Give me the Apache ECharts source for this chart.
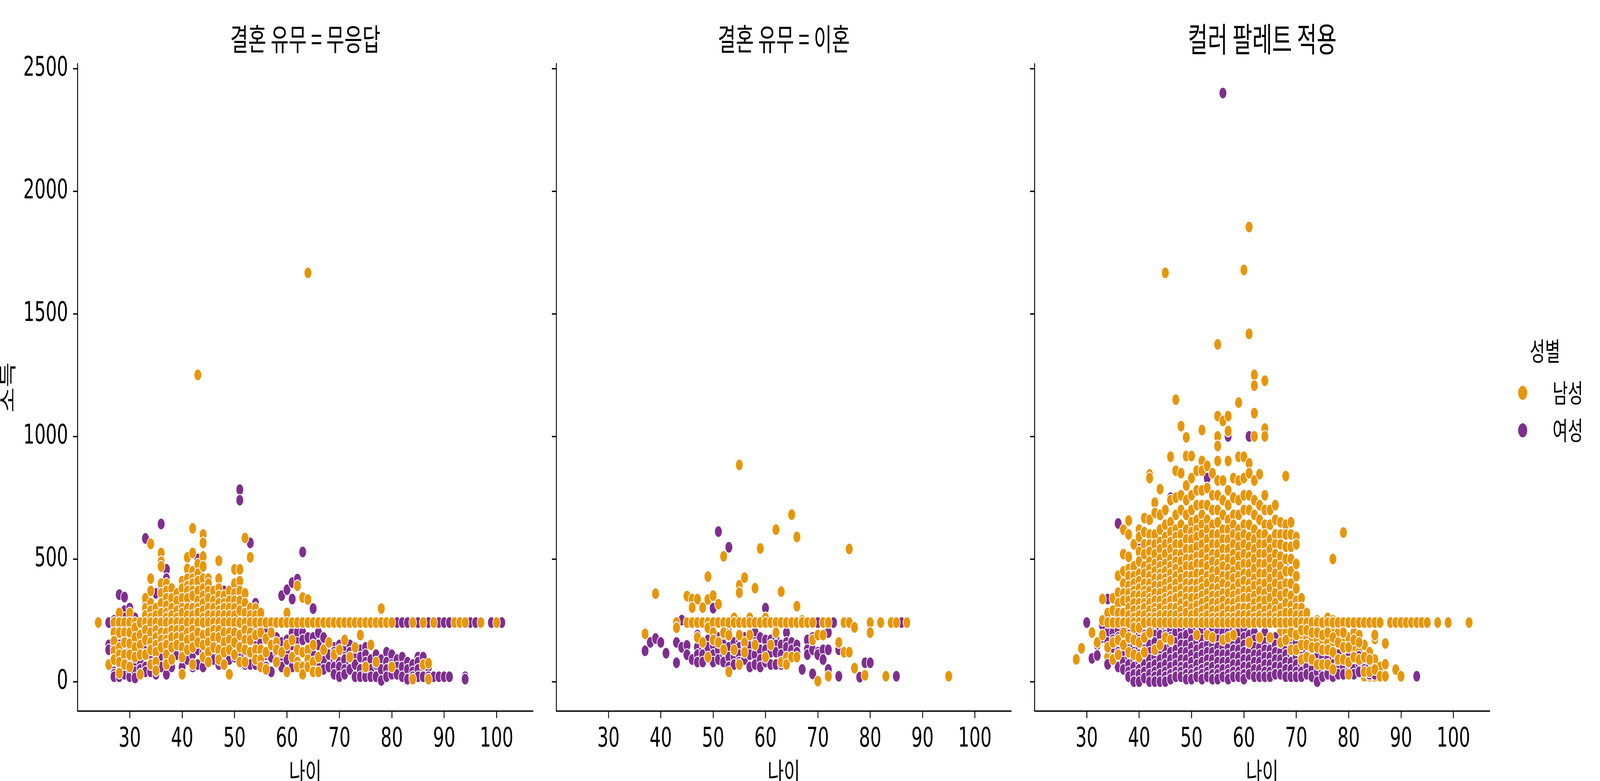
<!DOCTYPE html>
<html>
<head>
<meta charset="utf-8">
<script src="https://cdn.jsdelivr.net/npm/echarts@6/dist/echarts.min.js"></script>
<style>
html, body { margin: 0; padding: 0; background: #fff; overflow: hidden; }
#main { width: 6373px; height: 2000px; transform-origin: 0 0; }
</style>
</head>
<body>
<div id="main"></div>
<script>
// 축 눈금, 제목
var xTicks = [30, 40, 50, 60, 70, 80, 90, 100];
var yTicks = [0, 500, 1000, 1500, 2000, 2500];
var panelTitles = ['결혼 유무 = 무응답', '결혼 유무 = 이혼', '컬러 팔레트 적용'];
var genders = ['남성', '여성'];

// [나이, 소득, 소득, ...] 형태로 나이별 점 묶음
var noAnswerMale = [
  [24,241],[26,70],[27,241,200,165,125,90],[28,280,241,200,140,110,80,35],[29,241,200,160,110,70],
  [30,280,241,200,155,110,60],[31,241,220,180,140,100],[32,241,190,150,110,30],[33,340,300,270,241,210,170,110],
  [34,562,420,370,320,290,260,241,200,160,130,70],[35,300,270,241,210,180,150,120,80,45],
  [36,525,489,470,400,360,320,280,241,200,170,140],[37,400,370,340,310,280,260,241,200,170,150,110,70],
  [38,380,340,300,270,241,210,180,140,90],[39,360,330,290,260,241,210,180,150],
  [40,410,380,340,300,280,241,210,180,140,100,30],[41,507,460,420,390,370,340,300,270,241,200,170,130],
  [42,625,525,450,420,400,370,350,300,270,241,210,180,140,70],[43,1251,479,440,410,370,330,300,280,241,200,160],
  [44,600,566,510,470,420,380,350,320,290,260,241,190,150,100],[45,420,400,370,340,300,270,241,200,160,120,80],
  [46,370,330,300,270,241,210,180,140],[47,493,420,380,350,320,290,270,241,210,180,130,90],
  [48,350,320,300,270,241,200,160,120,70],[49,370,330,300,270,241,200,170,130,30],
  [50,458,400,360,330,300,270,241,200,160,110],[51,458,410,370,330,290,241,190,140,80],
  [52,586,360,320,280,241,210,170,130,80],[53,507,300,270,241,200,170,120],[54,300,270,241,190,130,90],
  [55,280,241,200,130,90,60],[56,241,175,120,50],[57,241,200,150],[58,241,160,130,80],[59,241,120],
  [60,280,241,150,40],[61,241,170,100],[62,391,241,130,80,60],[63,343,241,120,60,30],[64,1667,335,241,130,90,60],
  [65,241,150,80,40],[66,241,100,40],[67,241,130],[68,241,160],[69,241,110],[70,241,130],[71,241,170],
  [72,241,100],[73,241,140],[74,241,190],[75,241,60],[76,241,150],[77,241,80],[78,298,241],[79,241],
  [80,241,60],[84,241,10],[86,241,70],[87,75,10],[88,241],[92,241],[93,241],[94,241],[97,241],[100,241]
];
var noAnswerFemale = [
  [26,241,150,130],[27,250,210,170,140,120,90,60,40,30,20],[28,355,241,200,180,150,120,100,70,40,20],
  [29,345,290,260,230,190,160,120,90,60,30],[30,300,241,200,160,120,90,60,40,20],
  [31,260,220,200,160,130,100,70,40,15],[32,241,210,180,140,110,80,50,30],[33,584,325,280,241,200,150,110,60,40],
  [34,320,280,250,220,180,140,100,70,40],[35,360,300,241,200,150,100,60,30],[36,643,380,330,241,200,150,100,60],
  [37,458,420,350,300,241,190,140,80,30],[38,280,241,180,140,100,60],[39,360,290,241,200,150,110],
  [40,300,241,180,130,90,60],[41,290,241,200,140,90],[42,310,241,200,160,110,60],[43,500,241,180,130,70],
  [44,380,241,170,120,60],[45,241,190,150,110,80],[46,300,241,200,130,90],[47,340,241,170,110,70],
  [48,370,241,210,170,120,80],[49,241,180,130,90],[50,300,241,180,140,100],[51,783,740,340,241,180,120,80],
  [52,300,241,190,150,110,70],[53,566,300,241,170,120,70],[54,320,241,200,160,110,70],[55,241,160,110,60],
  [56,241,200,170,110,60],[57,241,190,150,100,40],[58,241,180,120,80],[59,351,241,160,100,60],
  [60,375,241,170,130,90],[61,404,337,241,200,150,100,60],[62,418,241,200,160,110,70],
  [63,529,241,200,170,120,60],[64,241,180,130,80],[65,298,241,180,140,110,60],[66,241,200,150,100,60],
  [67,241,180,130,90,50],[68,241,150,110,60],[69,241,140,120,90,60,30],[70,241,150,110,80,60,20],
  [71,241,130,100,90,50,30],[72,241,150,120,80,50],[73,241,140,110,70,20],[74,241,130,100,50,20],
  [75,241,140,110,80,40,20],[76,241,90,50,20],[77,241,110,70,20],[78,241,90,50,5],[79,241,120,80,50,20],
  [80,241,110,70,30],[81,241,90,60,30],[82,241,100,60,20],[83,241,80,50,10],[84,241,70,40,20],
  [85,241,100,80,50,20],[86,241,100,60,20],[87,241,60,20],[88,241,20],[89,241,20],[90,241,20],[91,241,20],
  [94,20,10],[95,241],[96,241],[99,241],[101,241]
];
var divorcedMale = [
  [37,195],[39,359],[43,241,220],[45,349,241],[46,337,302,241],[47,337,241,180],[48,302,241,160],
  [49,428,335,241,220,100],[50,351,241,200,170],[51,316,241,160],[52,511,241,200,130],[53,241,190,40],
  [54,260,241,130],[55,884,393,363,241,190,70],[56,424,241,160,120],[57,260,241,190],[58,381,241,150],
  [59,543,241],[60,260,241,100],[61,241,150],[62,620,241,200],[63,367,241,80],[64,241,100,70],
  [65,681,241,100],[66,590,308,241,100],[67,250,241],[68,241],[69,241,170],[70,190,2],[71,241,190],
  [72,241,22],[74,160],[75,241,120],[76,541,241,120],[77,221,55],[79,26],[80,241,200],[82,241],[83,22],
  [84,241],[85,241],[87,241],[95,22]
];
var divorcedFemale = [
  [37,126],[38,160],[39,176],[40,160],[41,116],[43,160,77],[44,251,140],[45,148,110],[46,90],
  [47,190,140,110,80],[48,241,130,110,80],[49,241,170,140,100],[50,300,241,200,150,110,80],
  [51,612,241,180,130,90],[52,241,180,150,110,80],[53,548,200,140,100,60],[54,241,160,120,100,70],
  [55,241,170,140,110,80],[56,180,150,130,90],[57,241,180,150,110,60],[58,200,160,110,70],
  [59,241,180,130,90,60],[60,300,241,170,130,80],[61,241,170,120,70],[62,241,180,150,120,70],
  [63,241,150,110,70],[64,200,160,140,90],[65,241,160,130,100],[66,241,150,120],[67,50],
  [68,241,170,130,110],[69,180,130,32],[70,241,120,110],[71,241,130,90],[72,241,200,130,50],[73,241],
  [74,130,22],[78,18],[79,77],[80,77],[85,22],[86,241]
];
var allMale = [
  [28,91],[29,136],[31,200],[32,160],[33,337,250,190],[34,280,241,140,100],[35,340,290,241,200,160,120,90],
  [36,432,363,320,280,241,210,170,130,110],[37,620,520,450,400,360,330,280,241,200,170,150,110],
  [38,657,600,509,460,430,390,360,330,300,270,241,210,180,150,120],
  [39,560,470,430,400,370,350,320,290,260,241,220,200,170,150,110,80],
  [40,620,590,530,490,440,410,380,350,320,290,270,241,220,190,160,130,100,60],
  [41,667,610,560,520,470,440,400,370,350,320,300,270,241,210,180,150,120,80],
  [42,845,830,660,600,560,530,490,460,430,400,370,340,320,290,260,241,200,150],
  [43,730,688,600,560,520,480,450,420,390,360,330,300,280,260,241,190,130],
  [44,785,680,620,570,540,500,470,440,420,390,360,330,300,270,241,200,150],
  [45,1667,700,640,590,560,520,480,450,420,400,370,340,320,290,270,241,180],
  [46,917,740,650,610,570,540,500,470,440,410,380,350,330,300,270,241,170],
  [47,1150,860,750,680,620,590,560,520,490,460,430,400,370,340,300,270,241,180],
  [48,1042,850,760,700,640,600,560,520,490,450,420,380,350,320,290,260,241,200],
  [49,996,920,800,740,680,620,580,540,500,470,430,400,370,340,310,280,241,190],
  [50,920,830,760,700,650,610,580,540,500,470,430,400,370,340,300,270,241,180],
  [51,860,780,720,660,620,590,550,510,480,440,400,370,340,310,280,241,190,130],
  [52,1026,900,860,780,720,680,640,600,560,520,480,440,410,380,350,320,290,260,241,170],
  [53,880,790,720,660,620,580,540,500,470,430,400,360,330,300,270,241,190],
  [54,850,760,700,640,600,560,520,490,450,420,380,350,320,290,260,241,180],
  [55,1375,1083,1000,961,900,820,760,700,650,600,560,520,480,450,410,380,350,320,290,260,241,190],
  [56,1063,820,740,680,620,580,540,500,470,430,400,360,330,300,270,241,170],
  [57,1083,1022,900,780,720,660,620,580,540,500,460,430,390,360,320,290,260,241,180],
  [58,830,750,680,640,600,560,520,490,450,420,380,350,320,290,260,241,190],
  [59,1138,917,820,740,680,620,590,550,510,470,430,400,360,330,300,270,241,170],
  [60,1679,917,830,760,700,640,600,560,520,480,440,410,370,340,300,270,241,180],
  [61,1854,1418,890,850,760,700,640,590,550,510,480,440,400,370,340,300,270,241,160],
  [62,1251,1207,1095,1000,820,740,680,620,580,540,500,460,420,390,350,320,290,260,241,170],
  [63,846,720,660,600,560,520,480,440,400,370,330,300,270,241,180],
  [64,1227,1032,1000,760,700,640,600,560,520,480,440,400,360,330,290,260,241,160],
  [65,700,640,580,540,500,460,420,380,340,300,270,241,180],
  [66,720,660,600,560,520,480,440,400,360,320,290,260,241,170],
  [67,650,600,560,510,470,430,390,350,300,270,241,200,160,120],
  [68,838,640,600,550,500,450,400,360,320,280,241,200,170,140],
  [69,650,600,550,500,450,400,350,310,280,241,200,170,130,100],
  [70,590,560,480,430,380,330,300,270,241,210,190,160,130],
  [71,340,300,270,241,210,180,150,120,90],[72,280,241,210,180,150,130,100,80],[73,241,220,200,170,140,110,90],
  [74,250,241,200,170,140,100,70],[75,241,210,190,160,130,100,70],[76,260,241,200,160,130,100,70],
  [77,500,250,241,210,180,150,120,80,50],[78,241,200,160,130,90,60],[79,608,241,200,170,140,120,90,60],
  [80,241,180,140,110,80,50,30],[81,241,200,170,130,100,70],[82,241,190,160,120,90,60],
  [83,241,150,100,70,40,22],[84,241,120,90,70,40,22],[85,190,174,241,90,50,22],[86,241,60,22],
  [87,156,71,22],[88,241],[89,241,49],[90,241,22],[91,241],[92,241],[93,241],[94,241],[95,241],
  [97,241],[99,241],[103,241]
];
var allFemale = [
  [30,241],[31,95],[32,150,107],[33,231,180],[34,337,200,160,71],[35,260,200,170,140,90],
  [36,645,300,241,210,180,150,120,90,60],[37,280,241,220,190,160,130,110,80,50],
  [38,300,241,220,190,160,130,100,70,40,20],[39,250,220,180,150,120,90,60,30,0],
  [40,541,280,241,200,170,140,110,80,50,30,0],[41,300,250,220,190,160,130,100,70,40,15],
  [42,280,241,210,180,150,120,90,60,30,0],[43,330,241,210,190,160,130,100,70,40,20,0],
  [44,300,250,220,190,150,120,90,60,30,0],[45,350,260,230,190,160,130,100,70,40,20,0],
  [46,750,280,241,210,180,150,120,90,60,30,10],[47,300,260,230,200,160,130,100,70,40,20],
  [48,280,241,210,180,150,120,90,60,40,20],[49,310,260,220,190,150,120,90,60,30,10],
  [50,300,241,210,170,140,110,80,50,30,10],[51,320,260,220,190,160,130,100,70,40,20],
  [52,280,241,210,170,140,110,80,50,30,10],[53,830,270,241,210,180,150,120,90,60,40,20],
  [54,300,250,220,180,150,120,90,60,30,10],[55,241,200,170,140,110,80,50,30,10],
  [56,2400,280,241,200,170,140,110,80,50,20],[57,1000,241,200,170,140,110,80,50,30,10],
  [58,241,210,190,160,130,100,70,40,20],[59,241,200,160,130,100,70,40,20],
  [60,241,210,180,150,120,90,60,30,10],[61,1000,241,190,150,120,90,60,30],
  [62,520,241,200,170,140,110,80,50,20],[63,241,180,140,110,80,50,20],[64,241,200,160,130,100,70,40,20],
  [65,241,170,130,100,70,40,20],[66,722,241,180,150,120,90,60,30],[67,460,241,150,120,90,60,30],
  [68,490,241,170,140,110,80,50,20],[69,241,140,110,80,50,20],[70,241,160,130,100,70,40,20],
  [71,241,130,100,70,40,20],[72,241,150,120,90,60,30],[73,241,110,80,50,20],[74,241,130,100,70,40,0],
  [75,241,100,70,40,20],[76,241,120,90,60,30],[77,241,100,70,40,20],[78,241,110,80,50,30],
  [79,241,90,60,30],[80,241,100,70,40],[81,241,80,50,30],[82,241,103,70,40],[83,241,80,50],
  [84,241,60,30],[85,241,50,30],[86,241],[93,22]
];

var colors = { '남성': '#E6960A', '여성': '#7E2F8E' };
var font = 'Noto Sans CJK KR';
var numFont = 'DejaVu Sans';

// 창 크기가 6373x2000이 아니면 전체를 창에 맞춰 늘리거나 줄임
var dom = document.getElementById('main');
var sx = window.innerWidth / 6373, sy = window.innerHeight / 2000;
if (Math.abs(sx - 1) > 0.001 || Math.abs(sy - 1) > 0.001) {
  dom.style.transform = 'scale(' + sx + ',' + sy + ')';
}

// keep(income, index in group) 로 고른 점만 [나이, 소득]으로 펼침
function expand(groups, keep) {
  var out = [];
  groups.forEach(function (g) {
    for (var i = 1; i < g.length; i++) {
      if (!keep || keep(g[i], i)) out.push([g[0], g[i]]);
    }
  });
  return out;
}

// splitMale: 241 미만 남성 점의 절반은 여성 아래, 절반은 위에 (섞여 그려진 느낌)
var panels = [
  { male: noAnswerMale, female: noAnswerFemale, left: 309, width: 1814, splitMale: false },
  { male: divorcedMale, female: divorcedFemale, left: 2216, width: 1812, splitMale: false },
  { male: allMale, female: allFemale, left: 4121, width: 1813, splitMale: true }
];

function scatter(name, i, data) {
  return {
    name: name, type: 'scatter', xAxisIndex: i, yAxisIndex: i,
    data: data, symbolSize: 30,
    itemStyle: { color: colors[name], borderColor: '#fff', borderWidth: 2.5, opacity: 1 }
  };
}

var grids = [], xAxes = [], yAxes = [], series = [], graphics = [];
panels.forEach(function (p, i) {
  // outerBoundsMode none: 축 이름이 아래로 잘려도 격자를 줄이지 않음
  grids.push({ left: p.left, top: 163, width: p.width, height: 1658, outerBoundsMode: 'none', containLabel: false });
  xAxes.push({
    type: 'value', gridIndex: i, min: 20.05, max: 106.95,
    name: '나이', nameLocation: 'middle', nameGap: 121,
    nameTextStyle: { fontFamily: font, fontSize: 70, color: '#000' },
    axisLine: { onZero: false, lineStyle: { color: '#000', width: 3.5 } },
    axisTick: { show: true, length: 18, lineStyle: { width: 3.5, color: '#000' }, customValues: xTicks },
    axisLabel: { fontFamily: numFont, fontSize: 70, color: '#000', margin: 38, customValues: xTicks,
                 formatter: function (v) { return String(v); } },
    splitLine: { show: false }
  });
  yAxes.push({
    type: 'value', gridIndex: i, min: -120, max: 2520,
    name: i === 0 ? '소득' : '', nameLocation: 'middle', nameGap: 245, nameRotate: 90,
    nameTextStyle: { fontFamily: font, fontSize: 70, color: '#000' },
    axisLine: { show: true, onZero: false, lineStyle: { color: '#000', width: 3.5 } },
    axisTick: { show: true, length: 18, lineStyle: { width: 3.5, color: '#000' }, customValues: yTicks },
    axisLabel: { show: i === 0, fontFamily: numFont, fontSize: 70, color: '#000', margin: 38, customValues: yTicks,
                 formatter: function (v) { return String(v); } },
    splitLine: { show: false }
  });
  if (p.splitMale) {
    series.push(scatter('남성', i, expand(p.male, function (v, k) { return v < 241 && k % 2 === 0; })));
    series.push(scatter('여성', i, expand(p.female)));
    series.push(scatter('남성', i, expand(p.male, function (v, k) { return v >= 241 || k % 2 === 1; })));
  } else {
    series.push(scatter('여성', i, expand(p.female)));
    series.push(scatter('남성', i, expand(p.male)));
  }
  graphics.push({
    type: 'text', x: p.left + p.width / 2, y: 100,
    style: { text: panelTitles[i], font: (i === 2 ? 86 : 78) + 'px "' + font + '"', fill: '#000',
             textAlign: 'center', textVerticalAlign: 'middle' }
  });
});

graphics.push({
  type: 'text', x: 6154, y: 899,
  style: { text: '성별', font: '66px "' + font + '"', fill: '#000', textAlign: 'center', textVerticalAlign: 'middle' }
});

var chart = echarts.init(dom, null, { width: 6373, height: 2000 });
chart.setOption({
  animation: false,
  backgroundColor: '#fff',
  grid: grids,
  xAxis: xAxes,
  yAxis: yAxes,
  legend: {
    data: genders, orient: 'vertical', left: 6040, top: 968,
    icon: 'circle', itemWidth: 38, itemHeight: 38, itemGap: 30,
    textStyle: { fontFamily: font, fontSize: 66, lineHeight: 38, color: '#000', padding: [0, 0, 0, 95] }
  },
  graphic: graphics,
  series: series
});
</script>
</body>
</html>
